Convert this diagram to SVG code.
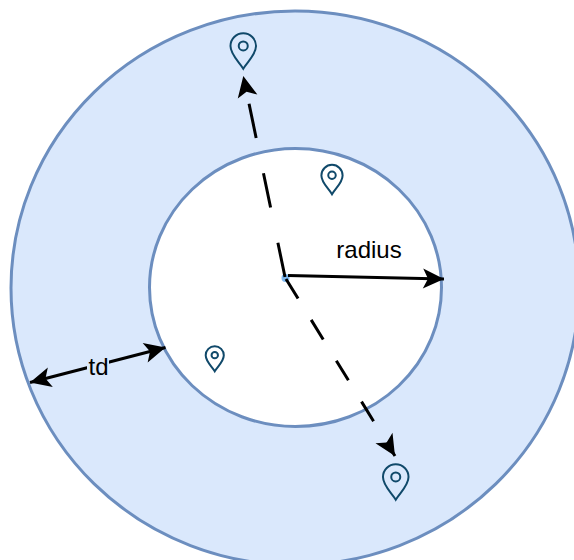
<svg xmlns="http://www.w3.org/2000/svg" width="574" height="560" viewBox="0 0 574 560">
<style>
.ring{stroke:#6c8ebf;stroke-width:3}
.dash1{fill:none;stroke:#000;stroke-width:3;stroke-dasharray:35 36}
.dash2{fill:none;stroke:#000;stroke-width:3;stroke-dasharray:23 25}
.solid{fill:none;stroke:#000;stroke-width:3}
.pinline{fill:none;stroke:#10496a;stroke-width:2;vector-effect:non-scaling-stroke}
text{font-family:"Liberation Sans",Arial,sans-serif;font-size:24px;fill:#000}
</style>
<defs>
<symbol id="pinshape" viewBox="-1 -1 28 38" overflow="visible">
<path class="pinline" d="M13 36C9 29 0 22 0 13A13 13 0 0 1 26 13C26 22 17 29 13 36Z"/>
<circle class="pinline" cx="13" cy="12.800" r="4.600"/>
</symbol>
<marker id="ah" markerUnits="userSpaceOnUse" markerWidth="24" markerHeight="24" refX="22" refY="12" orient="auto-start-reverse" viewBox="0 0 24 24">
<path d="M22 12L1 22L6 12L1 2Z" fill="#000"/>
</marker>
</defs>
<g id="outer-zone"><ellipse class="ring" cx="295" cy="288" rx="284" ry="277" fill="#dae8fc"/></g>
<g id="inner-zone"><ellipse class="ring" cx="295.500" cy="287.500" rx="146" ry="139" fill="#fff"/></g>
<g id="connectors">
<circle id="center" cx="285.500" cy="278" r="4" fill="#7db8f0"/>
<path class="dash1" d="M285 277L243.300 76" marker-end="url(#ah)"/>
<path class="dash2" d="M286 279L395 456" marker-end="url(#ah)"/>
<path class="solid" d="M288 275.500L444 279" marker-end="url(#ah)"/>
<path class="solid" d="M30 382.500L165.500 347.500" marker-start="url(#ah)" marker-end="url(#ah)"/>
</g>
<g id="radius-label"><text x="369" y="258" text-anchor="middle">radius</text></g>
<g id="td-label"><rect x="87" y="355" width="22" height="22" fill="#dae8fc"/><text x="98.500" y="375" text-anchor="middle">td</text></g>
<g id="pin-top"><use href="#pinshape" x="229.500" y="32" width="27.500" height="38"/></g>
<g id="pin-inner-top"><use href="#pinshape" x="320.500" y="164" width="23" height="31"/></g>
<g id="pin-inner-left"><use href="#pinshape" x="205" y="345" width="19.500" height="27.500"/></g>
<g id="pin-bottom"><use href="#pinshape" x="382" y="463" width="27.500" height="38"/></g>
</svg>
